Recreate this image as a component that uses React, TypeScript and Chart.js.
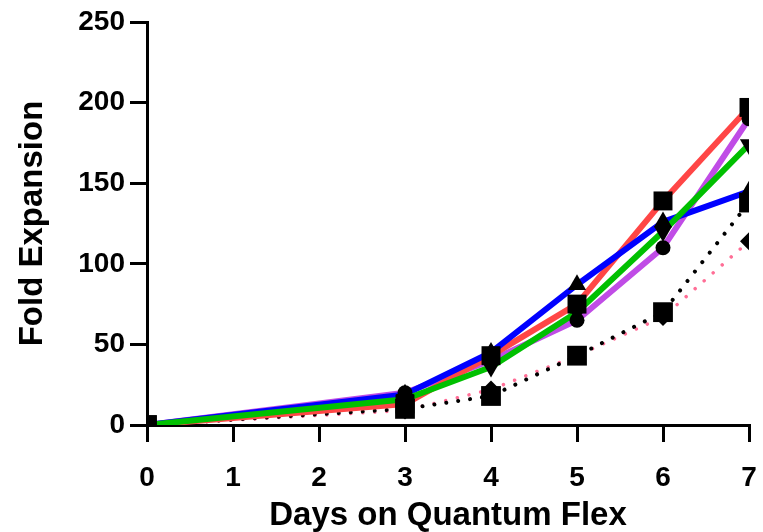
import React, { useEffect, useRef } from "react";
import { Chart, registerables } from "chart.js";

Chart.register(...registerables);

// ---- data ----
const days = [0, 3, 4, 5, 6, 7];
const redValues = [0, 13, 43, 75, 139, 197];
const purpleValues = [0, 20, 40, 65, 110, 190];
const greenValues = [0, 16, 36, 70, 120, 174];
const blueValues = [0, 19, 45, 87, 126, 145];
const blackDottedValues = [0, 10, 18, 43, 70, 138];
const pinkDottedValues = [0, 9, 22, 43, 67, 114];

const xTickValues = [0, 1, 2, 3, 4, 5, 6, 7];
const yTickValues = [0, 50, 100, 150, 200, 250];
const xTitle = "Days on Quantum Flex";
const yTitle = "Fold Expansion";

const FONT = "'Liberation Sans', Arial, Helvetica, sans-serif";

type Series = {
  values: number[];
  color: string;
  dotted: boolean;
  width: number;
  marker: string;
  radius: number;
  rotation: number;
  lineOrder: number;
  markerOrder: number;
};

const series: Series[] = [
  { values: greenValues, color: "#00C000", dotted: false, width: 6, marker: "triangle", radius: 10.5, rotation: 180, lineOrder: 13, markerOrder: 2 },
  { values: blueValues, color: "#0000FF", dotted: false, width: 6, marker: "triangle", radius: 10.5, rotation: 0, lineOrder: 14, markerOrder: 2 },
  { values: redValues, color: "#FF4646", dotted: false, width: 6, marker: "rect", radius: 13.4, rotation: 0, lineOrder: 15, markerOrder: 1 },
  { values: purpleValues, color: "#C04CE6", dotted: false, width: 6, marker: "circle", radius: 7.5, rotation: 0, lineOrder: 16, markerOrder: 0 },
  { values: blackDottedValues, color: "#000000", dotted: true, width: 4, marker: "rect", radius: 14, rotation: 0, lineOrder: 17, markerOrder: 3 },
  { values: pinkDottedValues, color: "#FF6E96", dotted: true, width: 3.5, marker: "rectRot", radius: 9, rotation: 0, lineOrder: 18, markerOrder: 4 },
];

const toPoints = (vals: number[]) => days.map((d, i) => ({ x: d, y: vals[i] }));

export default function App() {
  const canvasRef = useRef<HTMLCanvasElement | null>(null);

  useEffect(() => {
    document.body.style.margin = "0";
    const canvas = canvasRef.current;
    if (!canvas) return;

    const datasets: any[] = [];
    series.forEach((s) => {
      datasets.push({
        data: toPoints(s.values),
        borderColor: s.color,
        backgroundColor: s.color,
        borderWidth: s.width,
        borderDash: s.dotted ? [0.01, 12] : [],
        borderCapStyle: s.dotted ? "round" : "butt",
        borderJoinStyle: "round",
        pointRadius: 0,
        pointHoverRadius: 0,
        fill: false,
        tension: 0,
        clip: 0,
        order: s.lineOrder,
      });
    });
    series.forEach((s) => {
      datasets.push({
        data: toPoints(s.values),
        showLine: false,
        pointStyle: s.marker,
        pointRadius: s.radius,
        pointHoverRadius: s.radius,
        pointRotation: s.rotation,
        pointBackgroundColor: "#000000",
        pointBorderColor: "#000000",
        pointBorderWidth: 0,
        clip: 0,
        order: s.markerOrder,
      });
    });

    const chart = new Chart(canvas, {
      type: "line",
      data: { datasets },
      options: {
        animation: false,
        responsive: false,
        maintainAspectRatio: false,
        events: [],
        layout: { padding: { left: 0, right: 11, top: 22, bottom: 0 } },
        plugins: {
          legend: { display: false },
          tooltip: { enabled: false },
        },
        scales: {
          x: {
            type: "linear",
            min: 0,
            max: 7,
            afterBuildTicks: (scale: any) => {
              scale.ticks = xTickValues.map((v) => ({ value: v }));
            },
            afterFit: (scale: any) => {
              scale.height = 107;
              scale.paddingLeft = 0;
              scale.paddingRight = 0;
            },
            border: { display: true, color: "#000000", width: 3 },
            grid: {
              drawOnChartArea: false,
              drawTicks: true,
              tickLength: 17,
              color: "#000000",
              lineWidth: 3,
            },
            ticks: {
              color: "#000000",
              padding: 22,
              maxRotation: 0,
              autoSkip: false,
              font: { family: FONT, size: 28, weight: "bold", lineHeight: 1 },
            },
            title: {
              display: true,
              text: xTitle,
              color: "#000000",
              padding: { top: 0, bottom: 0 },
              font: { family: FONT, size: 33, weight: "bold", lineHeight: 1 },
            },
          },
          y: {
            type: "linear",
            min: 0,
            max: 250,
            afterBuildTicks: (scale: any) => {
              scale.ticks = yTickValues.map((v) => ({ value: v }));
            },
            afterFit: (scale: any) => {
              scale.width = 147;
              scale.paddingTop = 0;
              scale.paddingBottom = 0;
            },
            border: { display: true, color: "#000000", width: 3 },
            grid: {
              drawOnChartArea: false,
              drawTicks: true,
              tickLength: 17,
              color: "#000000",
              lineWidth: 3,
            },
            ticks: {
              color: "#000000",
              padding: 5,
              autoSkip: false,
              font: { family: FONT, size: 28, weight: "bold", lineHeight: 1 },
            },
            title: {
              display: true,
              text: yTitle,
              color: "#000000",
              padding: { top: 16, bottom: 0 },
              font: { family: FONT, size: 33, weight: "bold", lineHeight: 1 },
            },
          },
        },
      } as any,
    });

    return () => {
      chart.destroy();
    };
  }, []);

  return (
    <div style={{ width: 763, height: 532, position: "relative", background: "#ffffff" }}>
      <canvas ref={canvasRef} width={763} height={532} style={{ display: "block" }} />
    </div>
  );
}
